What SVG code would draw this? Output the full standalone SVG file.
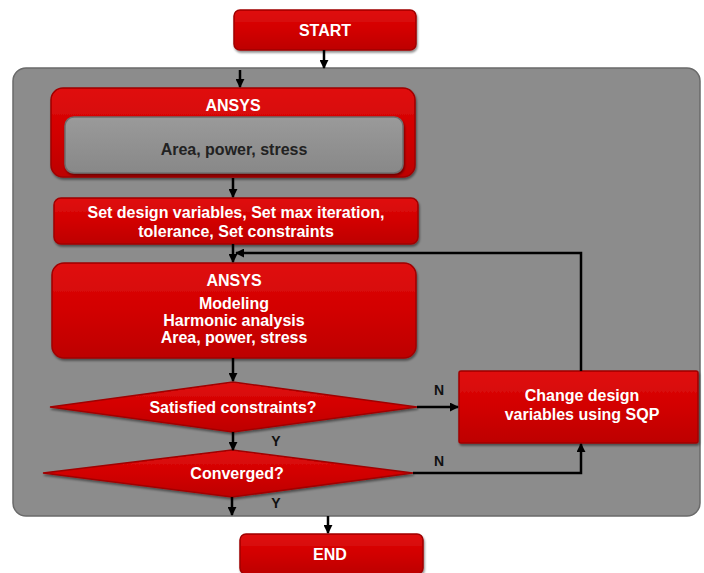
<svg xmlns="http://www.w3.org/2000/svg" width="704" height="573" viewBox="0 0 704 573">
<defs>
<linearGradient id="red" x1="0" y1="0" x2="0" y2="1">
<stop offset="0" stop-color="#e01010"/>
<stop offset="0.5" stop-color="#d20000"/>
<stop offset="1" stop-color="#bd0000"/>
</linearGradient>
<linearGradient id="gray" x1="0" y1="0" x2="0" y2="1">
<stop offset="0" stop-color="#9a9a9a"/>
<stop offset="1" stop-color="#888"/>
</linearGradient>
<marker id="ah" viewBox="0 0 10 10" refX="9" refY="5" markerWidth="9" markerHeight="9" markerUnits="userSpaceOnUse" orient="auto">
<path d="M0,0 L10,5 L0,10 z" fill="#000"/>
</marker>
<filter id="sh" x="-5%" y="-10%" width="112%" height="130%">
<feDropShadow dx="1" dy="2" stdDeviation="1.2" flood-color="#000" flood-opacity="0.45"/>
</filter>
</defs>
<style>
.r{fill:url(#red);stroke:#a00000;stroke-width:1.5;filter:url(#sh)}
.t{font-family:"Liberation Sans",Arial,sans-serif;font-weight:bold;font-size:16px;fill:#fff;text-anchor:middle}
.d{fill:#222}
.l{font-family:"Liberation Sans",Arial,sans-serif;font-weight:bold;font-size:14px;fill:#111;text-anchor:middle}
.c{stroke:#000;stroke-width:2.5;fill:none}
</style>
<rect id="panel" x="13" y="68" width="687" height="448" rx="13" fill="#8c8c8c" stroke="#6a6a6a" stroke-width="1.5"/>
<g id="start"><rect class="r" x="234" y="10" width="182" height="40" rx="6"/><text class="t" x="325" y="36">START</text></g>
<g id="ansys1"><rect class="r" x="51" y="88" width="364" height="89" rx="12"/><text class="t" x="233" y="111">ANSYS</text>
<rect x="65" y="117" width="338" height="56" rx="9" fill="url(#gray)" stroke="#6e6e6e" stroke-width="1.5" filter="url(#sh)"/><text class="t d" x="234" y="155">Area, power, stress</text></g>
<g id="setvars"><rect class="r" x="54" y="198" width="364" height="46" rx="7"/><text class="t" x="236" y="218">Set design variables, Set max iteration,</text><text class="t" x="236" y="237">tolerance, Set constraints</text></g>
<g id="ansys2"><rect class="r" x="52" y="263" width="364" height="95" rx="12"/><text class="t" x="234" y="286">ANSYS</text><text class="t" x="234" y="309">Modeling</text><text class="t" x="234" y="326">Harmonic analysis</text><text class="t" x="234" y="343">Area, power, stress</text></g>
<g id="satisfied"><polygon class="r" points="50,407 233,382 417,407 233,432"/><text class="t" x="233" y="413">Satisfied constraints?</text></g>
<g id="converged"><polygon class="r" points="43,473 232,450 413,473 232,497"/><text class="t" x="237" y="479">Converged?</text></g>
<g id="change"><rect class="r" x="459" y="371" width="239" height="72" rx="2"/><text class="t" x="582" y="401">Change design</text><text class="t" x="582" y="420">variables using SQP</text></g>
<g id="end"><rect class="r" x="240" y="534" width="183" height="40" rx="6"/><text class="t" x="330" y="560">END</text></g>
<g id="connectors">
<line class="c" x1="324" y1="50" x2="324" y2="68" marker-end="url(#ah)"/>
<line class="c" x1="240" y1="70" x2="240" y2="87" marker-end="url(#ah)"/>
<line class="c" x1="233" y1="178" x2="233" y2="197" marker-end="url(#ah)"/>
<line class="c" x1="233" y1="244" x2="233" y2="262" marker-end="url(#ah)"/>
<polyline class="c" points="581,371 581,253 236,253" marker-end="url(#ah)"/>
<line class="c" x1="233" y1="358" x2="233" y2="381" marker-end="url(#ah)"/>
<line class="c" x1="417" y1="407" x2="458" y2="407" marker-end="url(#ah)"/>
<line class="c" x1="233" y1="432" x2="233" y2="450" marker-end="url(#ah)"/>
<polyline class="c" points="413,473 581,473 581,444" marker-end="url(#ah)"/>
<line class="c" x1="232" y1="497" x2="232" y2="515" marker-end="url(#ah)"/>
<line class="c" x1="328" y1="516" x2="328" y2="533" marker-end="url(#ah)"/>
</g>
<g id="labels">
<text class="l" x="439" y="395">N</text>
<text class="l" x="276" y="446">Y</text>
<text class="l" x="439" y="466">N</text>
<text class="l" x="276" y="508">Y</text>
</g>
</svg>
